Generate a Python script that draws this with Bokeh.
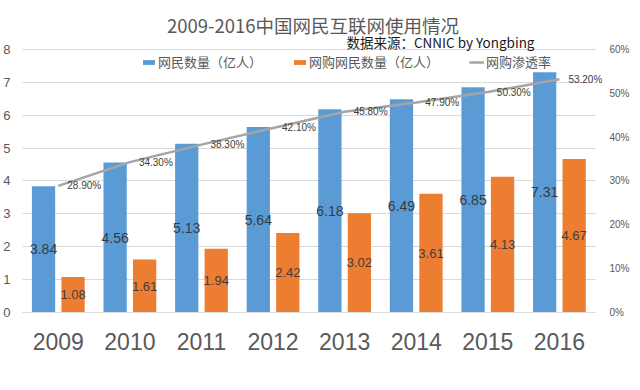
from bokeh.plotting import figure
from bokeh.models import (ColumnDataSource, Range1d, LinearAxis, FixedTicker,
                          PrintfTickFormatter, Label, Legend, LegendItem)
from bokeh.transform import dodge
from bokeh.core.properties import value
from bokeh.embed import file_html
from bokeh.resources import INLINE

years = ["2009", "2010", "2011", "2012", "2013", "2014", "2015", "2016"]
netizens = [3.84, 4.56, 5.13, 5.64, 6.18, 6.49, 6.85, 7.31]
shoppers = [1.08, 1.61, 1.94, 2.42, 3.02, 3.61, 4.13, 4.67]
penetration = [28.9, 34.3, 38.3, 42.1, 45.8, 47.9, 50.3, 53.2]
left_ticks = [0, 1, 2, 3, 4, 5, 6, 7, 8]
right_ticks = [0, 10, 20, 30, 40, 50, 60]

title_text = "2009-2016中国网民互联网使用情况"
source_text = "数据来源：CNNIC by Yongbing"
series_names = ["网民数量（亿人）", "网购网民数量（亿人）", "网购渗透率"]

BLUE = "#5B9BD5"
ORANGE = "#ED7D31"
GRAY = "#A5A5A5"
TXT = "#595959"
CJK = "Noto Sans CJK SC"
LAT = "Liberation Sans"

pos = list(range(len(years)))
src = ColumnDataSource(dict(
    x=pos,
    net=netizens,
    shop=shoppers,
    pct=penetration,
    net_mid=[v / 2 for v in netizens],
    shop_mid=[v / 2 for v in shoppers],
    net_lbl=[f"{v:.2f}" for v in netizens],
    shop_lbl=[f"{v:.2f}" for v in shoppers],
    pct_lbl=[f"{v:.2f}%" for v in penetration],
))

# frame reaches the top of the canvas so that the title/legend area is drawable
Y_TOP = 9.49            # left axis: 0..8 visible ticks, headroom above for titles
X_LO, X_HI = -0.5, 7.602  # a little room on the right for the last % label
p = figure(x_range=Range1d(X_LO, X_HI), y_range=Range1d(0, Y_TOP),
           width=632, height=382, min_border_left=16, min_border_right=27,
           min_border_top=0, min_border_bottom=70,
           output_backend="svg", toolbar_location=None)
p.extra_y_ranges = {"pct": Range1d(0, 60 * Y_TOP / 8)}
p.outline_line_color = None
p.background_fill_color = "white"
p.border_fill_color = "white"

off = 0.206
bw = 0.325
rb = p.vbar(x=dodge("x", -off), top="net", width=bw, source=src,
            fill_color=BLUE, line_color=None)
ro = p.vbar(x=dodge("x", off), top="shop", width=bw, source=src,
            fill_color=ORANGE, line_color=None)
rl = p.line(x="x", y="pct", source=src, y_range_name="pct", line_color=GRAY, line_width=2.5)

p.text(x=dodge("x", -off), y="net_mid", text="net_lbl", source=src,
       text_align="center", text_baseline="middle", text_font_size="14px",
       text_color="#333a45", text_font=value(LAT))
p.text(x=dodge("x", off), y="shop_mid", text="shop_lbl", source=src,
       text_align="center", text_baseline="middle", text_font_size="13px",
       text_color="#404040", text_font=value(LAT))
p.text(x="x", y="pct", text="pct_lbl", source=src, y_range_name="pct",
       x_offset=9, text_align="left", text_baseline="middle",
       text_font_size="10px", text_color="#404040", text_font=value(LAT))

# title and source note
p.add_layout(Label(x=3.558, y=8.76, text=title_text, text_align="center",
                   text_baseline="middle", text_font_size="18.5px", text_color=TXT,
                   text_font=CJK))
p.add_layout(Label(x=4.025, y=8.24, text=source_text, text_align="left",
                   text_baseline="middle", text_font_size="13.5px", text_color="#1a1a1a",
                   text_font=CJK))

# grid and axes
p.xgrid.grid_line_color = None
p.ygrid.grid_line_color = "#D9D9D9"
p.ygrid.ticker = FixedTicker(ticks=left_ticks)
p.ygrid.cross_bounds = (-0.5, 7.5)

ya = p.yaxis[0]
ya.ticker = FixedTicker(ticks=left_ticks)
ya.axis_line_color = None
ya.major_tick_line_color = None
ya.minor_tick_line_color = None
ya.major_label_text_font_size = "13px"
ya.major_label_text_color = TXT
ya.major_label_text_font = LAT
ya.major_label_standoff = 6

ra = LinearAxis(y_range_name="pct", ticker=FixedTicker(ticks=right_ticks),
                formatter=PrintfTickFormatter(format="%d%%"))
ra.axis_line_color = None
ra.major_tick_line_color = None
ra.minor_tick_line_color = None
ra.major_label_text_font_size = "10px"
ra.major_label_text_color = TXT
ra.major_label_text_font = LAT
ra.major_label_standoff = 1
p.add_layout(ra, "right")

xa = p.xaxis[0]
xa.ticker = FixedTicker(ticks=pos)
xa.major_label_overrides = {i: y for i, y in zip(pos, years)}
xa.bounds = (-0.5, 7.5)
xa.axis_line_color = "#D9D9D9"
xa.major_tick_line_color = None
xa.minor_tick_line_color = None
xa.major_label_text_font_size = "23px"
xa.major_label_text_color = TXT
xa.major_label_text_font = LAT
xa.major_label_standoff = 14

legend = Legend(items=[LegendItem(label=series_names[0], renderers=[rb]),
                       LegendItem(label=series_names[1], renderers=[ro]),
                       LegendItem(label=series_names[2], renderers=[rl])],
                orientation="horizontal", location=(119, 241),
                glyph_width=15, glyph_height=6, label_height=14, label_standoff=2,
                spacing=30, padding=0, margin=0,
                label_text_font_size="13px", label_text_color=TXT, label_text_font=CJK,
                background_fill_alpha=0, border_line_color=None)
p.add_layout(legend)

open("out.html", "w").write(file_html(p, INLINE))
